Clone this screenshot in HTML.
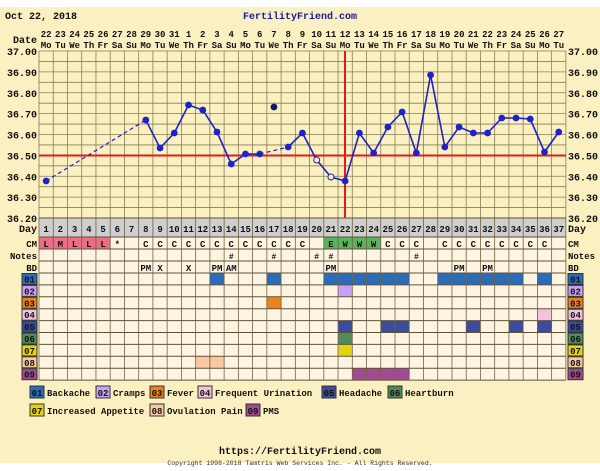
<!DOCTYPE html>
<html><head><meta charset="utf-8"><style>
html,body{margin:0;padding:0;background:#fff;width:600px;height:471px;overflow:hidden}
svg{display:block}
text{font-family:"Liberation Mono",monospace;font-weight:bold}
</style></head><body>
<svg id="s" width="600" height="471" xmlns="http://www.w3.org/2000/svg"></svg>
<script>
var s=document.getElementById('s'),h='';
function R(x,y,w,hh,f,st){h+='<rect x="'+x+'" y="'+y+'" width="'+w+'" height="'+hh+'" fill="'+f+'"'+(st?' stroke="'+st+'" stroke-width="1"':'')+'/>';}
function L(x1,y1,x2,y2,c,w,d){h+='<line x1="'+x1+'" y1="'+y1+'" x2="'+x2+'" y2="'+y2+'" stroke="'+c+'" stroke-width="'+w+'"'+(d?' stroke-dasharray="'+d+'"':'')+'/>';}
function T(x,y,t,sz,a,c){h+='<text x="'+x+'" y="'+y+'" font-size="'+sz+'" text-anchor="'+(a||'start')+'" fill="'+(c||'#111')+'">'+t+'</text>';}
var X0=39,CW=14.24,N=37,X1=X0+N*CW;
function cx(d){return X0+(d-0.5)*CW;}
R(0,7,600,456,'#fbf0c2');
var Y0=51,Y1=218;
R(X0,Y0,X1-X0,Y1-Y0,'#faf0c0');
for(var i=0;i<=16;i++){var y=Y0+i*(Y1-Y0)/16;L(X0,y,X1,y,'#8a7d5a',0.8);}
for(var i=0;i<=N;i++){var x=X0+i*CW;L(x,Y0,x,Y1,'#8a7d5a',0.8);}
var labs=['37.00','36.90','36.80','36.70','36.60','36.50','36.40','36.30','36.20'];
for(var i=0;i<9;i++){var y=Y0+i*(Y1-Y0)/8;T(37,y+4,labs[i],10,'end');T(568,y+4,labs[i],10,'start');}
T(5,19,'Oct 22, 2018',10);
T(300,19,'FertilityFriend.com',10,'middle','#1a1aa0');
T(37,43,'Date',10,'end');
var dn=['Mo','Tu','We','Th','Fr','Sa','Su'];
for(var d=1;d<=N;d++){var dt=d<=10?21+d:d-10;T(cx(d),37,dt,9,'middle');T(cx(d),48,dn[(d-1)%7],9,'middle');}
var rows=[218,237,249,261,273];for(var k=1;k<=9;k++)rows.push(273+k*11.9);
R(X0,218,X1-X0,19,'#cfcfcf');
R(X0,237,X1-X0,rows[rows.length-1]-237,'#fdf5e2');
var cm={1:'L',2:'M',3:'L',4:'L',5:'L',6:'*',21:'E',22:'W',23:'W',24:'W',25:'C',26:'C',27:'C'};
for(var d=8;d<=19;d++)cm[d]='C';for(var d=29;d<=36;d++)cm[d]='C';
for(var d=1;d<=5;d++)R(X0+(d-1)*CW,237,CW,12,'#ec6d86');
for(var d=21;d<=24;d++)R(X0+(d-1)*CW,237,CW,12,'#5cb35e');
var sc=['#2a6cb8','#c8a2f2','#e8831e','#f5c2de','#3c4c9c','#4f8c5a','#e4d410','#f9c8a0','#a24a92'];
var sy=[[13,17,21,22,23,24,25,26,29,30,31,32,33,34,36],[22],[17],[36],[22,25,26,31,34,36],[22],[22],[12,13],[23,24,25,26]];
for(var k=0;k<9;k++)for(var j=0;j<sy[k].length;j++)R(X0+(sy[k][j]-1)*CW,rows[4+k],CW,11.9,sc[k]);
for(var i=0;i<rows.length;i++)L(X0,rows[i],X1,rows[i],'#5e5238',1);
for(var i=0;i<=N;i++){var x=X0+i*CW;L(x,218,x,rows[rows.length-1],'#6e6246',0.8);}
T(37,232,'Day',10,'end');T(568,232,'Day',10);
for(var d=1;d<=N;d++)T(cx(d),232,d,9,'middle');
T(37,247,'CM',9,'end');T(568,247,'CM',9);
for(var d in cm)T(cx(+d),247,cm[d],9,'middle');
T(37,259,'Notes',9,'end');T(568,259,'Notes',9);
[14,17,20,21,27].forEach(function(d){T(cx(d),259,'#',8,'middle');});
T(37,271,'BD',9,'end');T(568,271,'BD',9);
var bd={8:'PM',9:'X',11:'X',13:'PM',14:'AM',21:'PM',30:'PM',32:'PM'};
for(var d in bd)T(cx(+d),271,bd[d],9,'middle');
for(var k=0;k<9;k++){var y=rows[4+k];R(22,y+0.5,15,11,sc[k],'#333');R(568,y+0.5,15,11,sc[k],'#333');
T(29.5,y+9.5,'0'+(k+1),9,'middle');T(575.5,y+9.5,'0'+(k+1),9,'middle');}
L(X0,155.5,X1,155.5,'#e21a1a',2);
L(345,Y0,345,218,'#e21a1a',2);
var ty={1:181,8:120,9:148,10:133,11:105,12:110,13:132,14:164,15:154,16:154,17:107,18:147,19:133,20:160,21:177,22:181,23:133,24:153,25:127,26:112,27:153,28:75,29:147,30:127,31:133,32:133,33:118,34:118,35:119,36:152,37:132};
var B='#1e22c8';
L(cx(1),ty[1],cx(8),ty[8],B,1.2,'4,3');
L(cx(16),ty[16],cx(18),ty[18],B,1.2,'4,3');
var p='';for(var d=8;d<=16;d++)p+=cx(d)+','+ty[d]+' ';
h+='<polyline points="'+p+'" fill="none" stroke="'+B+'" stroke-width="1.6"/>';
p='';for(var d=18;d<=37;d++)p+=cx(d)+','+ty[d]+' ';
h+='<polyline points="'+p+'" fill="none" stroke="'+B+'" stroke-width="1.6"/>';
for(var d in ty){d=+d;if(d==20||d==21)h+='<circle cx="'+cx(d)+'" cy="'+ty[d]+'" r="3" fill="#faf0c0" stroke="'+B+'" stroke-width="1"/>';
else h+='<circle cx="'+cx(d)+'" cy="'+ty[d]+'" r="3.4" fill="'+(d==17?'#151560':B)+'"/>';}
var lg=[[30,395,'Backache'],[96,395,'Cramps'],[150,395,'Fever'],[198,395,'Frequent Urination'],[322,395,'Headache'],[388,395,'Heartburn'],[30,413,'Increased Appetite'],[150,413,'Ovulation Pain'],[246,413,'PMS']];
for(var i=0;i<9;i++){var g=lg[i];R(g[0],g[1]-9,14,12,sc[i],'#333');T(g[0]+7,g[1]+1,'0'+(i+1),9,'middle');
h+='<text x="'+(g[0]+17)+'" y="'+(g[1]+1)+'" font-size="9" textLength="'+(g[2].length*5.4)+'" lengthAdjust="spacingAndGlyphs" fill="#111">'+g[2]+'</text>';}
T(300,454,'https://FertilityFriend.com',10,'middle');
h+='<text x="300" y="465" font-size="6.5" text-anchor="middle" fill="#333" style="font-weight:normal">Copyright 1998-2018 Tamtris Web Services Inc. - All Rights Reserved.</text>';
s.innerHTML=h;
</script>
</body></html>
